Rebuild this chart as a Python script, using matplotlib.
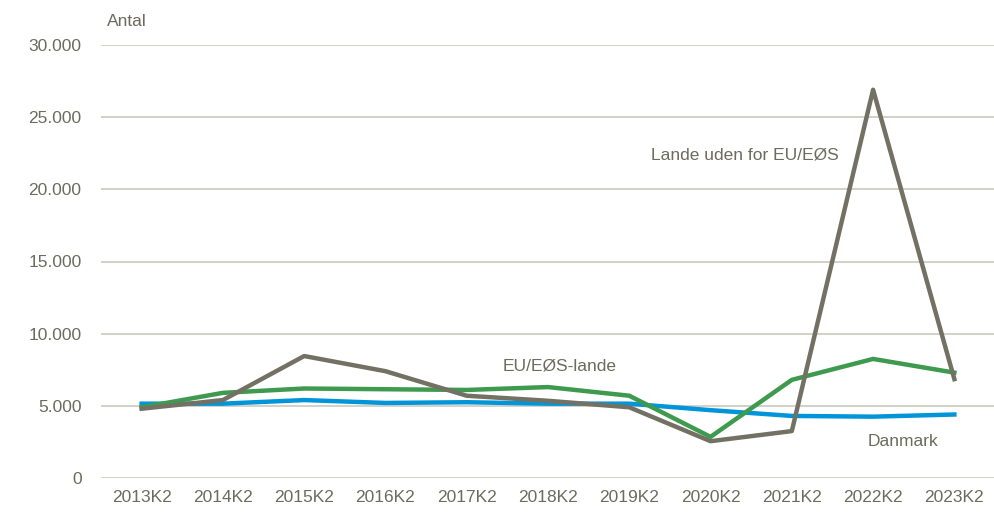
import numpy as np
import matplotlib
matplotlib.use('Agg')
import matplotlib.pyplot as plt
from matplotlib.ticker import FuncFormatter

plt.rcParams['font.family'] = ['Liberation Sans', 'DejaVu Sans']

kvartaler = ['2013K2', '2014K2', '2015K2', '2016K2', '2017K2', '2018K2',
             '2019K2', '2020K2', '2021K2', '2022K2', '2023K2']
danmark = [5150, 5150, 5400, 5200, 5250, 5150, 5150, 4700, 4300, 4250, 4400]
eu_eos = [4900, 5900, 6200, 6150, 6100, 6300, 5700, 2850, 6800, 8250, 7300]
uden_for = [4800, 5400, 8450, 7400, 5700, 5350, 4900, 2550, 3250, 26900, 6850]

tekstfarve = '#6b6b5e'
gitterfarve = '#c9c9bd'

fig = plt.figure(figsize=(9.95, 5.15), dpi=100)
ax = fig.add_axes([101 / 995, 1 - 478 / 515, 894 / 995, 433 / 515])

x = np.arange(len(kvartaler))
ax.plot(x, danmark, color='#0095d9', lw=3.2, solid_joinstyle='round', zorder=3)
ax.plot(x, eu_eos, color='#3e9a4e', lw=3.2, solid_joinstyle='round', zorder=4)
ax.plot(x, uden_for, color='#737163', lw=3.2, solid_joinstyle='round', zorder=5)

ax.set_xlim(-0.5, len(kvartaler) - 0.5)
ax.set_ylim(0, 30000)
ax.set_yticks(np.arange(0, 30001, 5000))
ax.yaxis.set_major_formatter(FuncFormatter(lambda v, pos: '{:,.0f}'.format(v).replace(',', '.')))
ax.set_xticks(x)
ax.set_xticklabels(kvartaler)

ax.grid(axis='y', color=gitterfarve, lw=1.2)
ax.set_axisbelow(True)
for s in ['top', 'right', 'left', 'bottom']:
    ax.spines[s].set_visible(False)
ax.tick_params(axis='both', length=0, labelsize=12.5, colors=tekstfarve)
ax.tick_params(axis='y', pad=14)
ax.tick_params(axis='x', pad=9)

fig.text(107 / 995, 1 - 22 / 515, 'Antal', fontsize=12.5, color=tekstfarve, va='center', ha='left')
ax.annotate('Lande uden for EU/EØS', xy=(651, 515 - 155), xycoords='figure pixels',
            fontsize=12.5, color=tekstfarve, va='center', ha='left')
ax.annotate('EU/EØS-lande', xy=(503, 515 - 366), xycoords='figure pixels',
            fontsize=12.5, color=tekstfarve, va='center', ha='left')
ax.annotate('Danmark', xy=(868, 515 - 441), xycoords='figure pixels',
            fontsize=12.5, color=tekstfarve, va='center', ha='left')

plt.savefig('out.png', dpi=100)
plt.close(fig)
